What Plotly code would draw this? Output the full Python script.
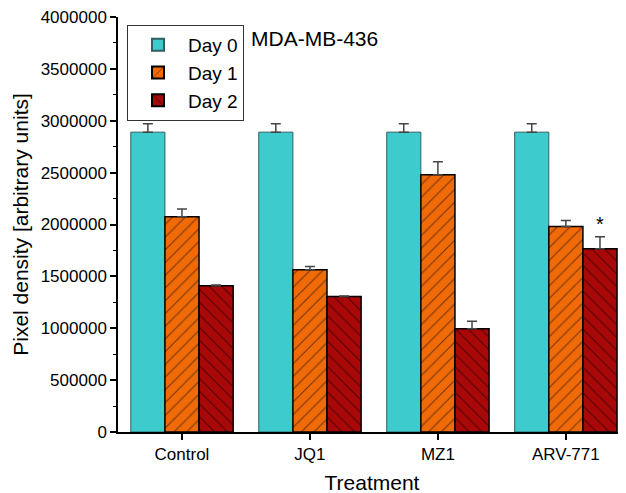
import plotly.graph_objects as go

categories = ["Control", "JQ1", "MZ1", "ARV-771"]
day0 = [2890000, 2890000, 2890000, 2890000]
day0_err = [80000, 80000, 80000, 80000]
day1 = [2075000, 1565000, 2480000, 1980000]
day1_err = [75000, 30000, 125000, 58000]
day2 = [1410000, 1305000, 996000, 1767000]
day2_err = [8000, 5000, 71000, 116000]
series_names = ["Day 0", "Day 1", "Day 2"]

FONT = "Liberation Sans, Arial"
# the page body has an 8px default margin; compensate so the plot area lands at
# x 118..626 and y 17..432 in the screenshot
OFF = 8
PL, PT, PR, PB = 118, 17, 626, 432
W, H = 626, 493

fig = go.Figure()

def err(a):
    return dict(type="data", array=a, arrayminus=[0] * len(a), symmetric=False,
                color="#444444", thickness=1.5, width=5)

fig.add_bar(x=categories, y=day0, name=series_names[0], error_y=err(day0_err),
            marker=dict(color="#3ECBCD", line=dict(color="#2F5F60", width=1)))
fig.add_bar(x=categories, y=day1, name=series_names[1], error_y=err(day1_err),
            marker=dict(color="#F06A08", line=dict(color="black", width=1.5),
                        pattern=dict(shape="/", fgcolor="black", bgcolor="#F06A08",
                                     size=9, solidity=0.12)))
fig.add_bar(x=categories, y=day2, name=series_names[2], error_y=err(day2_err),
            marker=dict(color="#A80808", line=dict(color="black", width=1.5),
                        pattern=dict(shape="\\", fgcolor="black", bgcolor="#A80808",
                                     size=9, solidity=0.12)))

def px_x(px):
    return (px - PL) / (PR - PL)

def px_y(py):
    return 1 - (py - PT) / (PB - PT)

fig.add_annotation(x=3.267, y=day2[3] + day2_err[3], text="*", showarrow=False,
                   xref="x", yref="y", yanchor="bottom", yshift=0,
                   font=dict(size=20, color="black", family=FONT))
fig.add_annotation(x=px_x(249), y=px_y(39), text="MDA-MB-436", showarrow=False,
                   xref="paper", yref="paper", xanchor="left", yanchor="middle",
                   font=dict(size=21, color="black", family=FONT))

fig.update_layout(
    width=W, height=H,
    margin=dict(l=PL - OFF, r=W + OFF - PR, t=PT - OFF, b=H + OFF - PB, autoexpand=False),
    paper_bgcolor="white", plot_bgcolor="white",
    barmode="group", bargap=0.2, bargroupgap=0,
    font=dict(family=FONT, size=17, color="black"),
    showlegend=True,
    legend=dict(x=px_x(127), y=px_y(25), xanchor="left", yanchor="top",
                bordercolor="#333333", borderwidth=1, bgcolor="white",
                font=dict(size=19), tracegroupgap=0, itemsizing="constant",
                itemwidth=50),
)
fig.update_xaxes(
    range=[-0.5, 3.47], showline=True, linecolor="black", linewidth=2,
    ticks="outside", ticklen=6, tickcolor="black", tickwidth=1.5,
    showgrid=False, zeroline=False, automargin=False,
    title=dict(text="Treatment", font=dict(size=21), standoff=12),
    tickfont=dict(size=17),
)
fig.update_yaxes(
    range=[0, 4000000], showline=True, linecolor="black", linewidth=1.5,
    ticks="outside", ticklen=6, tickcolor="black", tickwidth=1.5,
    dtick=500000, tickformat="d", ticklabeloverflow="allow",
    minor=dict(ticks="outside", ticklen=3, dtick=250000, tickcolor="black", tickwidth=1),
    showgrid=False, zeroline=False, automargin=False,
    title=dict(text="Pixel density [arbitrary units]", font=dict(size=21), standoff=6),
    tickfont=dict(size=17),
)

fig.write_html("out.html")
